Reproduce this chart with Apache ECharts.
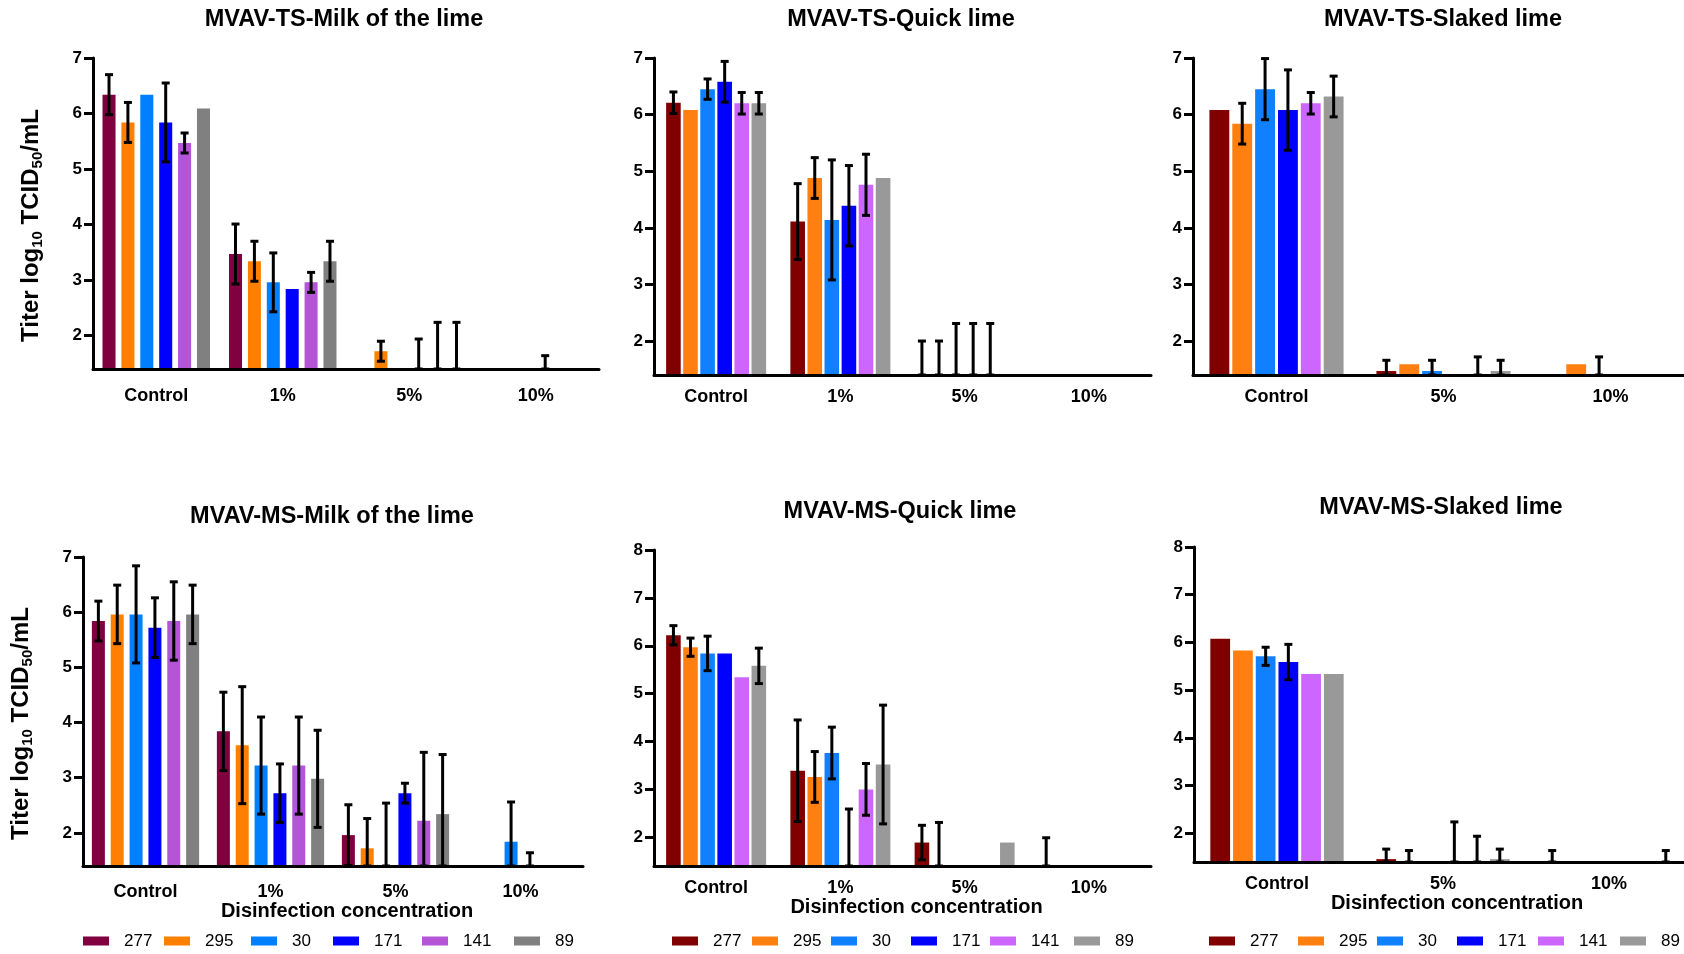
<!DOCTYPE html>
<html><head><meta charset="utf-8">
<script src="https://cdn.jsdelivr.net/npm/echarts@6/dist/echarts.min.js"></script>
<style>html,body{margin:0;padding:0;background:#fff}#c{width:1684px;height:954px}</style>
</head><body><div id="c"></div>
<script>
// ---------- data ----------
const strains = ['277', '295', '30', '171', '141', '89'];
const catsFull = ['Control', '1%', '5%', '10%'];
const catsSlaked = ['Control', '5%', '10%'];
const yTicks7 = [2, 3, 4, 5, 6, 7];
const yTicks8 = [2, 3, 4, 5, 6, 7, 8];
const colorsMilk = ['#800040', '#ff8000', '#0080ff', '#0000ff', '#b455d8', '#808080'];
const colorsLime = ['#800000', '#ff8010', '#1080ff', '#0000ff', '#cc66ff', '#999999'];

// rows = strains (277,295,30,171,141,89); columns = categories. 1.4 = at/below axis floor
const tsMilkMean = [[6.34, 3.47, null, null], [5.84, 3.34, 1.72, null], [6.34, 2.96, null, null], [5.84, 2.84, 1.4, 1.4], [5.47, 2.96, 1.4, null], [6.09, 3.34, 1.4, null]];
const tsMilkSd   = [[0.36, 0.54, null, null], [0.36, 0.36, 0.18, null], [0, 0.53, null, null], [0.71, 0, 0.54, 0.24], [0.18, 0.18, 0.84, null], [0, 0.36, 0.84, null]];

const tsQuickMean = [[6.21, 4.11, 1.4, null], [6.08, 4.88, 1.4, null], [6.45, 4.14, 1.4, null], [6.58, 4.39, 1.4, null], [6.20, 4.76, 1.4, null], [6.20, 4.88, null, null]];
const tsQuickSd   = [[0.19, 0.67, 0.60, null], [0, 0.36, 0.60, null], [0.18, 1.06, 0.91, null], [0.36, 0.71, 0.91, null], [0.19, 0.54, 0.91, null], [0.19, 0, null, null]];

const tsSlakedMean = [[6.08, 1.47, null], [5.84, 1.59, 1.59], [6.45, 1.47, 1.4], [6.08, null, null], [6.20, 1.4, null], [6.32, 1.47, null]];
const tsSlakedSd   = [[0, 0.19, null], [0.36, 0, 0], [0.54, 0.19, 0.32], [0.71, null, null], [0.19, 0.32, null], [0.36, 0.19, null]];

const msMilkMean = [[5.84, 3.84, 1.96, null], [5.96, 3.59, 1.72, null], [5.96, 3.22, 1.4, 1.84], [5.72, 2.72, 2.72, 1.4], [5.84, 3.22, 2.22, null], [5.96, 2.98, 2.34, null]];
const msMilkSd   = [[0.36, 0.71, 0.55, null], [0.53, 1.06, 0.54, null], [0.88, 0.88, 1.14, 0.72], [0.54, 0.53, 0.18, 0.24], [0.71, 0.88, 1.24, null], [0.53, 0.88, 1.08, null]];

const msQuickMean = [[6.22, 3.39, 1.89, 1.4], [5.97, 3.26, 1.4, null], [5.84, 3.76, null, null], [5.84, 1.4, null, null], [5.34, 3.00, null, null], [5.58, 3.52, 1.89, null]];
const msQuickSd   = [[0.20, 1.06, 0.36, 0.59], [0.19, 0.53, 0.91, null], [0.36, 0.54, null, null], [0, 1.19, null, null], [0, 0.54, null, null], [0.37, 1.24, 0, null]];

const msSlakedMean = [[6.08, 1.46, 1.4], [5.83, 1.4, null], [5.71, null, null], [5.59, 1.4, null], [5.34, 1.4, null], [5.34, 1.46, 1.4]];
const msSlakedSd   = [[0, 0.21, 0.24], [0, 0.24, null], [0.19, null, null], [0.37, 0.84, null], [0, 0.54, null], [0, 0.21, 0.24]];

// ---------- layout ----------
const FF = '"Liberation Sans", Arial, Helvetica, sans-serif';
const Y_MIN = 1.4;
const panels = [
  {title: 'MVAV-TS-Milk of the lime', cats: catsFull, mean: tsMilkMean, sd: tsMilkSd, colors: colorsMilk, yMax: 7, ticks: yTicks7,
   grid: {left: 93, top: 58, width: 506, height: 311}, tx: 344, ty: 20, bw: 10.3, gap: 45, yName: true, xName: false, lm: 18},
  {title: 'MVAV-TS-Quick lime', cats: catsFull, mean: tsQuickMean, sd: tsQuickSd, colors: colorsLime, yMax: 7, ticks: yTicks7,
   grid: {left: 654, top: 58, width: 497, height: 317}, tx: 901, ty: 20, bw: 11.75, gap: 17, yName: false, xName: false, lm: 13},
  {title: 'MVAV-TS-Slaked lime', cats: catsSlaked, mean: tsSlakedMean, sd: tsSlakedSd, colors: colorsLime, yMax: 7, ticks: yTicks7,
   grid: {left: 1193, top: 58, width: 501, height: 317}, tx: 1443, ty: 20, bw: 11.9, gap: 15, yName: false, xName: false, lm: 13},
  {title: 'MVAV-MS-Milk of the lime', cats: catsFull, mean: msMilkMean, sd: msMilkSd, colors: colorsMilk, yMax: 7, ticks: yTicks7,
   grid: {left: 83, top: 557, width: 500, height: 309}, tx: 332, ty: 517, bw: 10.4, gap: 45, yName: true, xName: true, lm: 17, ng: 33,
   legendX: [83, 164, 251, 333, 422, 514]},
  {title: 'MVAV-MS-Quick lime', cats: catsFull, mean: msQuickMean, sd: msQuickSd, colors: colorsLime, yMax: 8, ticks: yTicks8,
   grid: {left: 654, top: 550, width: 497, height: 316}, tx: 900, ty: 512, bw: 11.75, gap: 17, yName: false, xName: true, lm: 13, ng: 31,
   legendX: [672, 752, 831, 911, 990, 1074]},
  {title: 'MVAV-MS-Slaked lime', cats: catsSlaked, mean: msSlakedMean, sd: msSlakedSd, colors: colorsLime, yMax: 8, ticks: yTicks8,
   grid: {left: 1194, top: 547, width: 498, height: 315}, tx: 1441, ty: 508, bw: 11.9, gap: 15, yName: false, xName: true, lm: 13, ng: 30,
   legendX: [1209, 1298, 1377, 1457, 1538, 1620]}
];

const option = {
  animation: false,
  backgroundColor: '#fff',
  title: [], grid: [], xAxis: [], yAxis: [], series: [], legend: []
};

panels.forEach((p, k) => {
  option.title.push({
    text: p.title, left: p.tx, top: p.ty, textAlign: 'center', textVerticalAlign: 'middle', padding: 0,
    textStyle: {fontSize: 23.5, fontWeight: 'bold', fontFamily: FF, color: '#000'}
  });
  option.grid.push(Object.assign({containLabel: false, outerBoundsMode: 'none'}, p.grid));
  const xa = {
    type: 'category', gridIndex: k, data: p.cats, z: 5,
    axisLine: {onZero: false, lineStyle: {color: '#000', width: 3}},
    axisTick: {alignWithLabel: true, length: 9, lineStyle: {color: '#000', width: 3}},
    axisLabel: {margin: p.lm, fontSize: 18, fontWeight: 'bold', color: '#000', fontFamily: FF}
  };
  if (p.xName) {
    xa.name = 'Disinfection concentration';
    xa.nameLocation = 'middle';
    xa.nameGap = p.ng;
    xa.nameTextStyle = {fontSize: 20, fontWeight: 'bold', color: '#000', fontFamily: FF, padding: [0, 0, 0, 28]};
  }
  option.xAxis.push(xa);
  const ya = {
    type: 'value', gridIndex: k, min: Y_MIN, max: p.yMax, z: 5,
    splitLine: {show: false},
    axisLine: {show: true, lineStyle: {color: '#000', width: 3}},
    axisTick: {show: true, length: 9, lineStyle: {color: '#000', width: 3}, customValues: p.ticks},
    axisLabel: {customValues: p.ticks, margin: 11, fontSize: 17, fontWeight: 'bold', color: '#000', fontFamily: FF}
  };
  if (p.yName) {
    ya.name = '{a|Titer log}{s|10}{a| TCID}{s|50}{a|/mL}';
    ya.nameLocation = 'middle';
    ya.nameGap = 48;
    ya.nameTextStyle = {
      padding: [0, 24, 0, 0],
      rich: {
        a: {fontSize: 24, fontWeight: 'bold', color: '#000', fontFamily: FF},
        s: {fontSize: 15, fontWeight: 'bold', color: '#000', fontFamily: FF, padding: [12, 0, 0, 0]}
      }
    };
  }
  option.yAxis.push(ya);

  strains.forEach((s, i) => {
    option.series.push({
      type: 'bar', name: s, xAxisIndex: k, yAxisIndex: k,
      barWidth: p.bw + '%', barGap: p.gap + '%',
      itemStyle: {color: p.colors[i]},
      data: p.mean[i].map(v => v), z: 2
    });
    const errData = [];
    p.cats.forEach((c, j) => {
      const m = p.mean[i][j], d = p.sd[i][j];
      if (m != null && d != null && d > 0) errData.push([j, m, d]);
    });
    const bwPct = p.bw / 100, gapPct = p.gap / 100, idx = i, n = strains.length;
    option.series.push({
      type: 'custom', name: s + ' error', xAxisIndex: k, yAxisIndex: k, z: 4, clip: false,
      encode: {x: 0, y: 1},
      data: errData,
      renderItem: function (params, api) {
        const j = api.value(0), m = api.value(1), d = api.value(2);
        const band = api.size([1, 0])[0];
        const bw = band * bwPct, g = bw * gapPct;
        const total = n * bw + (n - 1) * g;
        const off = -total / 2 + idx * (bw + g) + bw / 2;
        const x = api.coord([j, m])[0] + off;
        const hi = Math.min(m + d, p.yMax), lo = Math.max(m - d, Y_MIN);
        const yHi = api.coord([j, hi])[1];
        const yLo = api.coord([j, lo])[1];
        const cap = 8;
        const st = {stroke: '#000', lineWidth: 3};
        return {
          type: 'group',
          children: [
            {type: 'line', shape: {x1: x, y1: yLo, x2: x, y2: yHi}, style: st},
            {type: 'line', shape: {x1: x - cap / 2, y1: yHi, x2: x + cap / 2, y2: yHi}, style: st},
            {type: 'line', shape: {x1: x - cap / 2, y1: yLo, x2: x + cap / 2, y2: yLo}, style: st}
          ]
        };
      }
    });
  });

  if (p.legendX) {
    strains.forEach((s, i) => {
      option.legend.push({
        left: p.legendX[i], top: 932, padding: 0, itemWidth: 26, itemHeight: 9, icon: 'rect',
        selectedMode: false,
        data: [{name: s, itemStyle: {color: p.colors[i]}}],
        textStyle: {fontSize: 17, fontFamily: FF, color: '#000', lineHeight: 18, padding: [0, 0, 0, 10]}
      });
    });
  }
});

const chart = echarts.init(document.getElementById('c'), null, {renderer: 'canvas'});
chart.setOption(option);
</script>
</body></html>
